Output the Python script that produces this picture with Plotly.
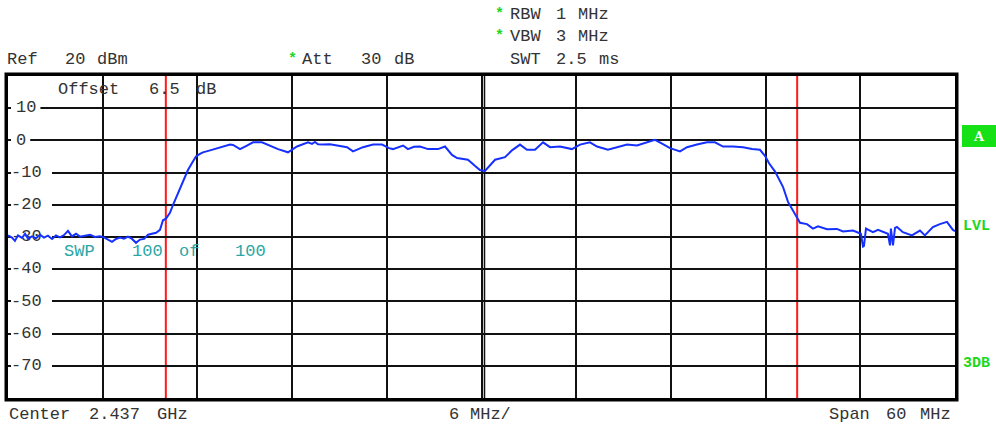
import plotly.graph_objects as go

# ---------------- data ----------------
freq_mhz = [
    2407.00, 2407.25, 2407.44, 2407.63, 2407.89, 2408.08, 2408.27, 2408.52, 2408.77, 2409.03,
    2409.28, 2409.53, 2409.79, 2410.04, 2410.29, 2410.55, 2410.80, 2411.05, 2411.31, 2411.56,
    2411.88, 2412.20, 2412.51, 2412.83, 2413.08, 2413.34, 2413.59, 2413.84, 2414.10, 2414.35,
    2414.60, 2414.86, 2415.11, 2415.36, 2415.62, 2415.87, 2416.12, 2416.38, 2416.63, 2416.82,
    2417.01, 2417.26, 2417.45, 2417.64, 2417.90, 2418.15, 2418.40, 2418.66, 2418.91, 2419.16,
    2419.35, 2419.80, 2420.24, 2420.62, 2421.07, 2421.26, 2421.70, 2422.14, 2422.52, 2423.09,
    2423.60, 2424.11, 2424.74, 2425.31, 2426.01, 2426.26, 2426.45, 2426.64, 2426.96, 2427.40,
    2427.85, 2428.48, 2428.86, 2429.49, 2430.13, 2430.70, 2431.14, 2431.39, 2432.03, 2432.34,
    2432.72, 2433.10, 2433.61, 2434.24, 2434.69, 2435.13, 2435.45, 2436.14, 2436.58, 2436.90,
    2437.22, 2437.54, 2437.86, 2438.49, 2438.93, 2439.44, 2439.88, 2440.39, 2440.90, 2441.34,
    2441.97, 2442.73, 2443.24, 2443.87, 2444.32, 2445.01, 2445.58, 2446.22, 2446.85, 2447.36,
    2447.99, 2448.44, 2448.94, 2449.58, 2450.02, 2450.65, 2451.29, 2451.79, 2452.30, 2452.93,
    2453.57, 2454.14, 2454.64, 2454.96, 2455.09, 2455.22, 2455.60, 2455.91, 2456.10, 2456.42,
    2456.74, 2456.99, 2457.18, 2457.62, 2458.00, 2458.32, 2458.89, 2459.52, 2459.90, 2460.54,
    2460.85, 2461.04, 2461.17, 2461.23, 2461.36, 2461.80, 2462.12, 2462.44, 2462.75, 2462.88,
    2462.94, 2463.07, 2463.20, 2463.32, 2463.70, 2464.27, 2464.78, 2465.09, 2465.60, 2466.04,
    2466.49, 2466.87, 2467.00,
]
level_dbm = [
    -29.5, -30.2, -31.2, -29.5, -30.3, -29.0, -30.5, -29.8, -30.4, -29.3,
    -30.2, -29.6, -30.6, -29.5, -30.1, -29.4, -28.1, -29.8, -29.0, -29.9,
    -29.6, -29.3, -30.0, -29.8, -30.1, -30.8, -31.5, -30.6, -30.2, -30.5,
    -29.9, -30.6, -31.8, -30.8, -30.6, -29.3, -29.1, -28.7, -27.8, -24.8,
    -24.3, -22.5, -20.1, -18.0, -14.9, -12.5, -9.2, -7.0, -5.0, -4.2,
    -3.7, -3.1, -2.4, -1.9, -1.3, -1.4, -2.7, -1.6, -0.6, -0.6,
    -1.7, -2.7, -3.7, -1.9, -0.6, -1.1, -0.5, -1.2, -1.3, -1.2,
    -1.6, -2.1, -3.4, -2.1, -1.3, -1.3, -2.4, -2.7, -1.6, -2.7,
    -2.0, -1.9, -2.7, -2.7, -1.9, -4.5, -5.5, -6.0, -7.9, -9.2,
    -9.5, -7.6, -6.0, -5.2, -3.1, -1.3, -2.9, -2.9, -0.6, -2.1,
    -1.9, -2.7, -1.3, -0.6, -1.9, -2.9, -2.1, -1.3, -1.6, -0.9,
    0.2, -1.0, -2.4, -3.4, -2.1, -1.3, -0.6, -0.6, -1.9, -1.9,
    -2.1, -2.7, -2.9, -4.8, -6.0, -7.1, -9.7, -12.8, -14.4, -19.1,
    -21.7, -23.9, -25.6, -26.0, -27.4, -26.7, -27.6, -27.5, -28.3, -28.0,
    -28.5, -29.0, -33.0, -32.8, -27.4, -28.5, -27.8, -28.3, -29.0, -32.6,
    -27.4, -32.6, -27.2, -26.9, -28.5, -29.5, -28.0, -29.5, -26.9, -26.0,
    -25.3, -27.8, -28.2,
]
ytick_values = [10, 0, -10, -20, -30, -40, -50, -60, -70]
ytick_labels = ["10", "0", "-10", "-20", "-30", "-40", "-50", "-60", "-70"]
marker_lines_mhz = [2417.0, 2457.0]
f_start, f_stop, f_div = 2407.0, 2467.0, 6.0
ref_top, ref_bottom = 20, -80

# ---------------- layout geometry ----------------
W, H = 996, 425
L, R, T, B = 8, 955, 76, 398   # plot area in pixels
FONT = "Liberation Mono"
GREY = "#333333"
GREEN = "#1ed81e"


def px2paper_x(x):
    return (x - L) / (R - L)


def px2paper_y(y):
    return (B - y) / (B - T)


mhz_per_px = (f_stop - f_start) / (R - L)
db_per_px = (ref_top - ref_bottom) / (B - T)

annotations = []


def text(xpx, ypx, s, color=GREY, size=17, bold=False, family=FONT):
    annotations.append(dict(
        xref="paper", yref="paper", x=px2paper_x(xpx), y=px2paper_y(ypx),
        xanchor="left", yanchor="middle", text=f"<b>{s}</b>" if bold else s,
        showarrow=False, borderpad=0,
        font=dict(family=family, size=size, color=color)))


# header
text(509, 15, "RBW")
text(555, 15, "1")
text(577, 15, "MHz")
text(509, 37, "VBW")
text(555, 37, "3")
text(577, 37, "MHz")
text(509, 60, "SWT")
text(555, 60, "2.5")
text(598, 60, "ms")
text(494, 15, "*", color=GREEN, size=15, bold=True)
text(494, 37, "*", color=GREEN, size=15, bold=True)
text(6, 60, "Ref")
text(64, 60, "20")
text(96, 60, "dBm")
text(287, 60, "*", color=GREEN, size=15, bold=True)
text(301, 60, "Att")
text(360, 60, "30")
text(393, 60, "dB")
# in-plot
text(57, 89, "Offset")
text(148, 89, "6.5")
text(195, 89, "dB")
teal = "#2aa6a6"
text(63, 252, "SWP", color=teal)
text(131, 252, "100", color=teal)
text(178, 252, "of", color=teal)
text(234, 252, "100", color=teal)
# footer
text(8, 414, "Center")
text(88, 414, "2.437")
text(156, 414, "GHz")
text(448, 414, "6")
text(469, 414, "MHz/")
text(828, 414, "Span")
text(885, 414, "60")
text(919, 414, "MHz")
# right side markers
text(962, 226, "LVL", color=GREEN, size=15, bold=True)
text(962, 363, "3DB", color=GREEN, size=15, bold=True)
annotations.append(dict(
    xref="paper", yref="paper", x=px2paper_x(979), y=px2paper_y(136),
    xanchor="center", yanchor="middle", text="<b>A</b>", showarrow=False,
    font=dict(family="DejaVu Serif", size=13, color="white")))

shapes = []
# green "A" box
shapes.append(dict(type="rect", xref="paper", yref="paper",
                   x0=px2paper_x(962), x1=px2paper_x(997),
                   y0=px2paper_y(147), y1=px2paper_y(125),
                   fillcolor="#16e016", line=dict(width=0), layer="above"))
# outer double frame
shapes.append(dict(type="rect", xref="paper", yref="paper",
                   x0=px2paper_x(5.5), x1=px2paper_x(957.5),
                   y0=px2paper_y(400.5), y1=px2paper_y(73.5),
                   line=dict(color="black", width=2), layer="above"))
# double centre grid line
shapes.append(dict(type="line", xref="x", yref="paper",
                   x0=(f_start + f_stop) / 2 + 3 * mhz_per_px,
                   x1=(f_start + f_stop) / 2 + 3 * mhz_per_px,
                   y0=0, y1=1, line=dict(color="#111111", width=1.5), layer="between"))
# white boxes behind y tick labels (gridline gap)
for v, lab in zip(ytick_values, ytick_labels):
    if lab.startswith("-"):
        x1px = 52
    else:
        x1px = 17 + 10.2 * len(lab) + 3
    shapes.append(dict(type="rect", xref="x", yref="y",
                       x0=f_start + 3 * mhz_per_px, x1=f_start + (x1px - L) * mhz_per_px,
                       y0=v - 7 * db_per_px, y1=v + 7 * db_per_px,
                       fillcolor="white", line=dict(width=0), layer="between"))
# red display lines
for fm in marker_lines_mhz:
    shapes.append(dict(type="line", xref="x", yref="paper", x0=fm, x1=fm, y0=0, y1=1,
                       line=dict(color="#ff1a1a", width=2), layer="between"))

fig = go.Figure()
# y tick labels as text (beneath the trace)
label_x = [f_start + (8 if not s.startswith("-") else 3) * mhz_per_px for s in ytick_labels]
fig.add_trace(go.Scatter(
    x=label_x, y=ytick_values, text=ytick_labels, mode="text",
    textposition="middle right", hoverinfo="skip", showlegend=False,
    textfont=dict(family=FONT, size=17, color=GREY)))
# spectrum trace
fig.add_trace(go.Scatter(
    x=freq_mhz, y=level_dbm, mode="lines", showlegend=False,
    line=dict(color="#1530ff", width=2)))

fig.update_layout(
    width=W, height=H,
    margin=dict(l=L, r=W - R, t=T, b=H - B, pad=0),
    paper_bgcolor="white", plot_bgcolor="white",
    xaxis=dict(range=[f_start, f_stop], tick0=f_start, dtick=f_div,
               showgrid=True, gridcolor="#111111", gridwidth=2,
               showticklabels=False, ticks="", zeroline=False,
               showline=True, mirror=True, linecolor="black", linewidth=2,
               fixedrange=True),
    yaxis=dict(range=[ref_bottom, ref_top], tick0=0, dtick=10,
               showgrid=True, gridcolor="#111111", gridwidth=2,
               showticklabels=False, ticks="", zeroline=False,
               showline=True, mirror=True, linecolor="black", linewidth=2,
               fixedrange=True),
    annotations=annotations, shapes=shapes,
)

fig.write_html("out.html", config={"displayModeBar": False},
               post_script="document.body.style.margin='0px';")
